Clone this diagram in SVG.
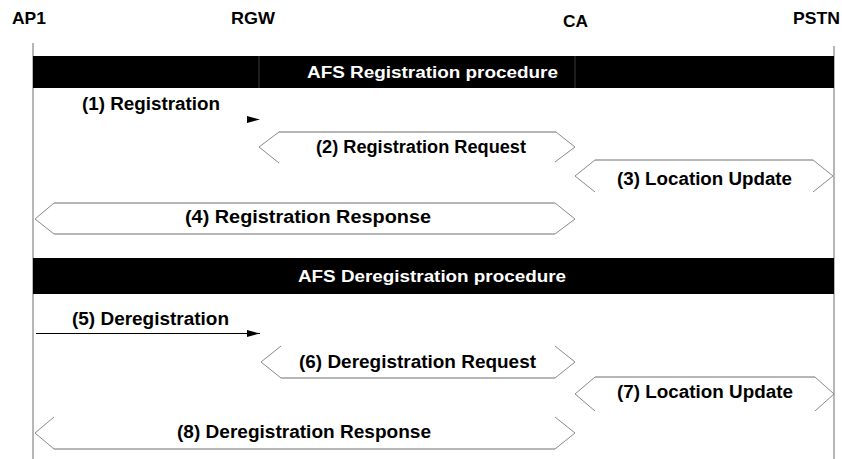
<svg xmlns="http://www.w3.org/2000/svg" width="842" height="459" viewBox="0 0 842 459">
  <defs>
    <style>
      .head { font-family: "Liberation Sans", Arial, sans-serif; font-weight: bold; font-size: 16.5px; fill: #000; }
      .bar { fill: #000; }
      .bartxt { font-family: "Liberation Sans", Arial, sans-serif; font-weight: bold; font-size: 16px; fill: #fff; }
      .lbl { font-family: "Liberation Sans", Arial, sans-serif; font-weight: bold; font-size: 17.5px; fill: #000; }
      .life { stroke: #6e6e6e; stroke-width: 1; fill: none; }
      .lifein { stroke: #3a3a3a; stroke-width: 1; fill: none; }
      .hex { stroke: #8a8a8a; stroke-width: 1; fill: none; stroke-linejoin: miter; }
      .hexline { stroke: #6f6f6f; stroke-width: 1; fill: none; }
      .msg { stroke: #000; stroke-width: 1; fill: none; }
    </style>
    <marker id="arrow" markerWidth="13" markerHeight="7" refX="13" refY="3.5" orient="auto" markerUnits="userSpaceOnUse">
      <path d="M0,0 L13,3.5 L0,7 Z" fill="#000"/>
    </marker>
  </defs>
  <rect width="842" height="459" fill="#fff"/>

  <!-- participants -->
  <g id="ap1">
    <text class="head" x="12" y="24" textLength="34" lengthAdjust="spacingAndGlyphs">AP1</text>
    <line class="life" x1="33" y1="43" x2="33" y2="459"/>
  </g>
  <g id="rgw">
    <text class="head" x="231" y="24" textLength="44" lengthAdjust="spacingAndGlyphs">RGW</text>
  </g>
  <g id="ca">
    <text class="head" x="563" y="27" textLength="25" lengthAdjust="spacingAndGlyphs">CA</text>
  </g>
  <g id="pstn">
    <text class="head" x="793" y="24" textLength="47" lengthAdjust="spacingAndGlyphs">PSTN</text>
    <line class="life" x1="834" y1="46" x2="834" y2="459"/>
  </g>

  <!-- procedure banners -->
  <g id="registration-banner">
    <rect class="bar" x="33" y="56" width="801" height="32"/>
    <line class="lifein" x1="259" y1="56" x2="259" y2="88"/>
    <line class="lifein" x1="575" y1="56" x2="575" y2="88"/>
    <text class="bartxt" x="307" y="77.5" textLength="251" lengthAdjust="spacingAndGlyphs">AFS Registration procedure</text>
  </g>
  <g id="deregistration-banner">
    <rect class="bar" x="33" y="258" width="801" height="36"/>
    <text class="bartxt" x="298" y="281.5" textLength="268" lengthAdjust="spacingAndGlyphs">AFS Deregistration procedure</text>
  </g>

  <!-- messages -->
  <g id="connectors">
    <!-- (1) AP1 -> RGW -->
    <g id="msg1">
      <path d="M247,116 L260,119.5 L247,123 Z" fill="#000"/>
      <text class="lbl" x="82" y="110" textLength="138" lengthAdjust="spacingAndGlyphs">(1) Registration</text>
    </g>
    <!-- (2) RGW <-> CA -->
    <g id="msg2">
      <polyline class="hex" points="279,163 259,147 279,132"/>
      <polyline class="hex" points="556,132 575,147 555,162"/>
      <line class="hexline" x1="279" y1="132" x2="556" y2="132"/>
      <text class="lbl" x="316" y="153" textLength="210" lengthAdjust="spacingAndGlyphs">(2) Registration Request</text>
    </g>
    <!-- (3) CA <-> PSTN -->
    <g id="msg3">
      <polyline class="hex" points="595,192 575,176 595,160"/>
      <polyline class="hex" points="813,160 833,176 813,192"/>
      <line class="hexline" x1="595" y1="160" x2="813" y2="160"/>
      <text class="lbl" x="617" y="185" textLength="175" lengthAdjust="spacingAndGlyphs">(3) Location Update</text>
    </g>
    <!-- (4) CA <-> AP1 -->
    <g id="msg4">
      <polyline class="hex" points="54,234 35,219 54,203"/>
      <polyline class="hex" points="555,203 575,219 555,234"/>
      <line class="hexline" x1="54" y1="203" x2="555" y2="203"/>
      <line class="hexline" x1="54" y1="234" x2="555" y2="234"/>
      <text class="lbl" x="185" y="223" textLength="246" lengthAdjust="spacingAndGlyphs">(4) Registration Response</text>
    </g>
    <!-- (5) AP1 -> RGW -->
    <g id="msg5">
      <line class="msg" x1="36" y1="333.5" x2="260" y2="333.5" marker-end="url(#arrow)"/>
      <text class="lbl" x="72" y="325" textLength="157" lengthAdjust="spacingAndGlyphs">(5) Deregistration</text>
    </g>
    <!-- (6) RGW <-> CA -->
    <g id="msg6">
      <polyline class="hex" points="281,378 261,362 281,346"/>
      <polyline class="hex" points="555,346 575,362 555,378"/>
      <line class="hexline" x1="281" y1="378" x2="555" y2="378"/>
      <text class="lbl" x="299" y="368" textLength="237" lengthAdjust="spacingAndGlyphs">(6) Deregistration Request</text>
    </g>
    <!-- (7) CA <-> PSTN -->
    <g id="msg7">
      <polyline class="hex" points="595,411 575,394 595,377"/>
      <polyline class="hex" points="815,377 834,394 815,411"/>
      <line class="hexline" x1="595" y1="377" x2="815" y2="377"/>
      <text class="lbl" x="617" y="398" textLength="176" lengthAdjust="spacingAndGlyphs">(7) Location Update</text>
    </g>
    <!-- (8) CA <-> AP1 -->
    <g id="msg8">
      <polyline class="hex" points="54,449 35,433 54,417"/>
      <polyline class="hex" points="555,417 575,433 555,449"/>
      <line class="hexline" x1="54" y1="449" x2="555" y2="449"/>
      <text class="lbl" x="177" y="438" textLength="254" lengthAdjust="spacingAndGlyphs">(8) Deregistration Response</text>
    </g>
  </g>
</svg>
